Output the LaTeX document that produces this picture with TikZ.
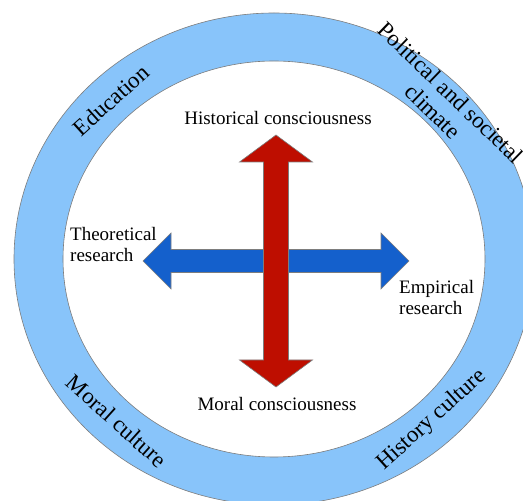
\documentclass[tikz,border=0pt]{standalone}
\usepackage{fontspec}
\setmainfont{Liberation Serif}
\definecolor{ringblue}{RGB}{136,196,250}
\definecolor{arrowblue}{RGB}{20,96,204}
\definecolor{arrowred}{RGB}{190,14,0}
\definecolor{edgegray}{RGB}{125,125,125}

\begin{document}
\begin{tikzpicture}[x=1pt, y=1pt,
    ringlabel/.style={font=\fontsize{23}{26}\selectfont, align=center, inner sep=0pt},
    axislabel/.style={font=\fontsize{19}{21}\selectfont, inner sep=0pt},
    arrowshape/.style={draw=edgegray, line width=0.6pt, line join=miter}]
    \useasboundingbox (0, 0) rectangle (523, 501);
    % Ring of surrounding influences.
    \coordinate (centre) at (274, 242);
    \fill[ringblue, even odd rule]
        (centre) ellipse [x radius=260pt, y radius=246pt]
        (centre) ellipse [x radius=211pt, y radius=198pt];
    \draw[edgegray, line width=0.6pt] (centre) ellipse [x radius=260pt, y radius=246pt];
    \draw[edgegray, line width=0.6pt] (centre) ellipse [x radius=211pt, y radius=198pt];
    % The two double arrows, drawn round their crossing point.
    \coordinate (mid) at (276, 240);
    \begin{scope}[shift={(mid)}]
        \draw[arrowshape, fill=arrowblue] (-133, 0)
            -- (-105, 28) -- (-105, 11.5) -- (105, 11.5) -- (105, 28)
            -- (133, 0)
            -- (105, -28) -- (105, -11.5) -- (-105, -11.5) -- (-105, -28)
            -- cycle;
        \draw[arrowshape, fill=arrowred] (0, 126)
            -- (36.5, 99) -- (12.5, 99) -- (12.5, -99) -- (36.5, -99)
            -- (0, -126)
            -- (-36.5, -99) -- (-12.5, -99) -- (-12.5, 99) -- (-36.5, 99)
            -- cycle;
    \end{scope}
    % Labels at the arrow ends.
    \node[axislabel] (hist) at (278, 383) {Historical consciousness};
    \node[axislabel] (moral) at (277, 97) {Moral consciousness};
    \node[axislabel, align=left, anchor=west] (theo) at (70, 256) {Theoretical\\research};
    \node[axislabel, align=left, anchor=west] (emp) at (399, 203) {Empirical\\research};
    % Labels in the ring.
    \node[ringlabel, rotate=42] (edu) at (111, 401) {Education};
    \node[ringlabel, rotate=-44] (pol) at (442, 399) {Political and societal\\climate};
    \node[ringlabel, rotate=-42] (morcult) at (117, 80) {Moral culture};
    \node[ringlabel, rotate=42] (histcult) at (432, 81) {History culture};
\end{tikzpicture}
\end{document}
